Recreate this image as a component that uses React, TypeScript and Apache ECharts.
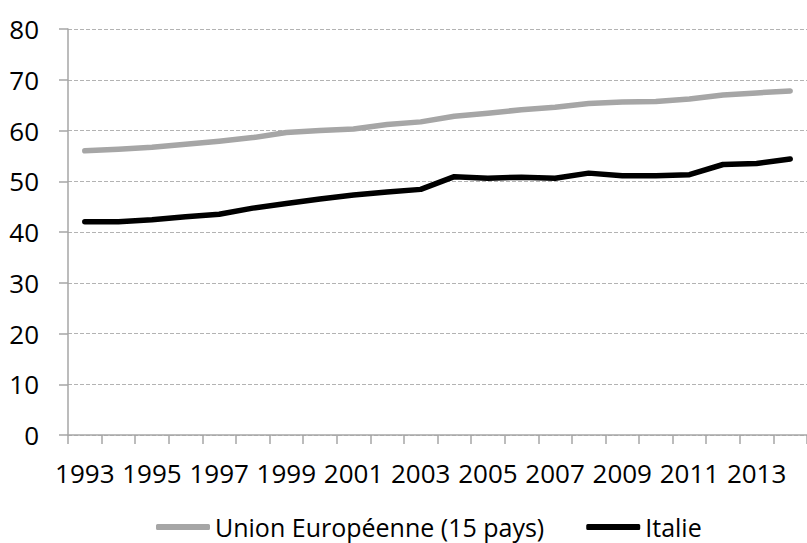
import React, { useEffect, useRef } from "react";
import * as echarts from "echarts";

const years = [
  "1993", "1994", "1995", "1996", "1997", "1998", "1999", "2000", "2001", "2002", "2003",
  "2004", "2005", "2006", "2007", "2008", "2009", "2010", "2011", "2012", "2013", "2014",
];

const ueValues = [
  56.0, 56.3, 56.7, 57.3, 57.9, 58.6, 59.6, 60.0, 60.3, 61.2, 61.7,
  62.8, 63.4, 64.1, 64.6, 65.3, 65.6, 65.7, 66.2, 67.0, 67.4, 67.8,
];

const italieValues = [
  42.0, 42.0, 42.4, 43.0, 43.5, 44.7, 45.6, 46.5, 47.3, 47.9, 48.4,
  50.9, 50.6, 50.8, 50.6, 51.6, 51.1, 51.1, 51.3, 53.3, 53.5, 54.4,
];

const yTicks = [0, 10, 20, 30, 40, 50, 60, 70, 80];

const seriesNames = ["Union Européenne (15 pays)", "Italie"];

const FONT = "'Open Sans', 'Noto Sans', sans-serif";

export default function App() {
  const ref = useRef<HTMLDivElement>(null);

  useEffect(() => {
    if (!ref.current) return;
    const chart = echarts.init(ref.current, undefined, { renderer: "svg" });
    chart.setOption({
      animation: false,
      backgroundColor: "#ffffff",
      textStyle: { fontFamily: FONT },
      grid: { left: 68, top: 29, width: 750, height: 406, containLabel: false },
      legend: {
        left: 151,
        top: 508,
        itemWidth: 54,
        itemHeight: 6,
        itemGap: 42,
        icon: "roundRect",
        textStyle: { fontFamily: FONT, fontSize: 25, color: "#000", lineHeight: 28 },
        data: seriesNames,
      },
      xAxis: {
        type: "category",
        data: years,
        boundaryGap: true,
        axisLine: { show: true, lineStyle: { color: "#a6a6a6", width: 1.5 } },
        axisTick: { show: true, interval: 0, length: 9, lineStyle: { color: "#a6a6a6", width: 1.5 } },
        axisLabel: {
          interval: 1,
          margin: 25,
          fontFamily: FONT,
          fontSize: 26,
          lineHeight: 26,
          color: "#000",
        },
        splitLine: { show: false },
      },
      yAxis: {
        type: "value",
        min: yTicks[0],
        max: yTicks[yTicks.length - 1],
        interval: 10,
        axisLine: { show: true, lineStyle: { color: "#a6a6a6", width: 1.5 } },
        axisTick: { show: true, length: 9, lineStyle: { color: "#a6a6a6", width: 1.5 } },
        axisLabel: { margin: 29, fontFamily: FONT, fontSize: 26, color: "#000" },
        splitLine: { show: true, lineStyle: { color: "#b3b3b3", width: 1, type: [4, 2] } },
      },
      series: [
        {
          name: seriesNames[0],
          type: "line",
          data: ueValues,
          showSymbol: false,
          symbol: "none",
          color: "#a6a6a6",
          lineStyle: { color: "#a6a6a6", width: 5.5, cap: "round", join: "round" },
          itemStyle: { color: "#a6a6a6" },
        },
        {
          name: seriesNames[1],
          type: "line",
          data: italieValues,
          showSymbol: false,
          symbol: "none",
          color: "#000000",
          lineStyle: { color: "#000000", width: 5.5, cap: "round", join: "round" },
          itemStyle: { color: "#000000" },
        },
      ],
    });
    return () => chart.dispose();
  }, []);

  return (
    <div
      ref={ref}
      style={{ position: "fixed", left: 0, top: 0, width: 807, height: 543, background: "#fff" }}
    />
  );
}
